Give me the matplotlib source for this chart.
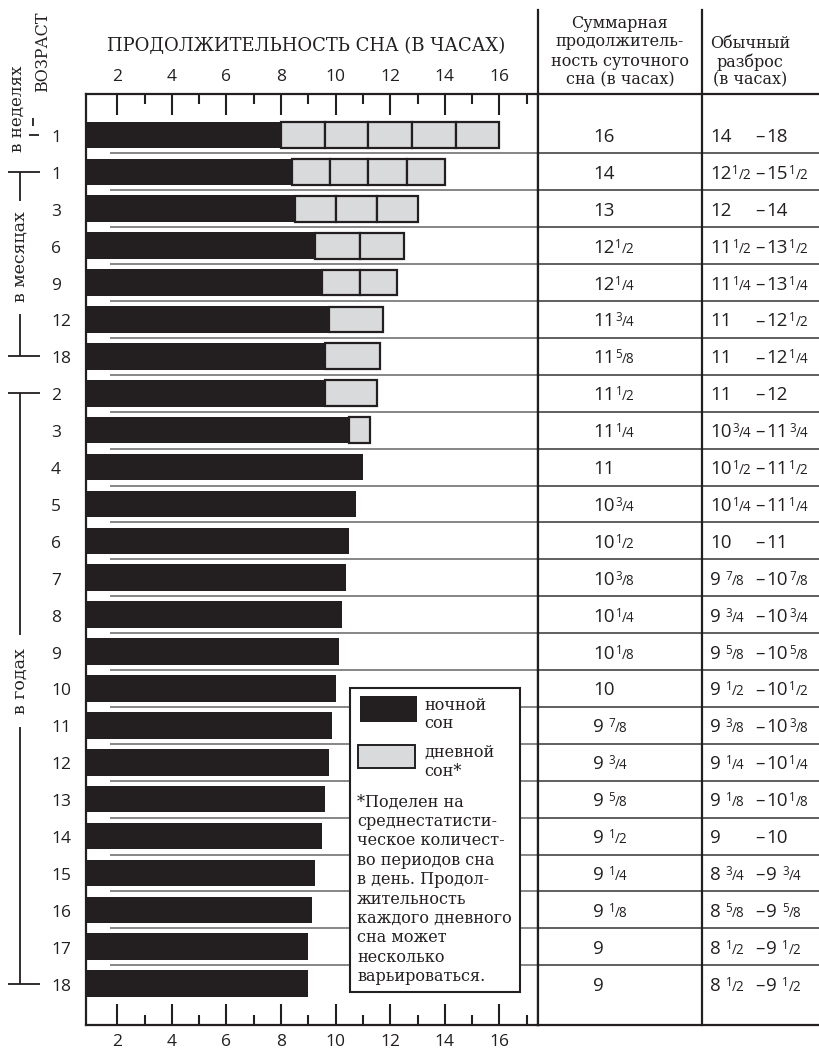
import matplotlib
matplotlib.use("Agg")
import matplotlib.pyplot as plt
import numpy as np
from matplotlib.lines import Line2D
from matplotlib.patches import Rectangle
from matplotlib.transforms import Affine2D

SERIF = "DejaVu Serif"
SANS = "Open Sans"
INK = "#231f20"
GRAY = "#d9dadb"
plt.rcParams["font.family"] = [SANS, "DejaVu Sans"]

# ---------------------------------------------------------------------------
# data
# ---------------------------------------------------------------------------
age_labels = ["1", "1", "3", "6", "9", "12", "18",
              "2", "3", "4", "5", "6", "7", "8", "9", "10",
              "11", "12", "13", "14", "15", "16", "17", "18"]
total_hours = [16, 14, 13, 12.5, 12.25, 11.75, 11.625,
               11.5, 11.25, 11, 10.75, 10.5, 10.375, 10.25, 10.125, 10,
               9.875, 9.75, 9.625, 9.5, 9.25, 9.125, 9, 9]
night_hours = [8, 8.4, 8.5, 9.25, 9.5, 9.75, 9.625,
               9.625, 10.5, 11, 10.75, 10.5, 10.375, 10.25, 10.125, 10,
               9.875, 9.75, 9.625, 9.5, 9.25, 9.125, 9, 9]
nap_count = [5, 4, 3, 2, 2, 1, 1, 1, 1] + [0] * 15

total_text = ["16", "14", "13", "12 1/2", "12 1/4", "11 3/4", "11 5/8",
              "11 1/2", "11 1/4", "11", "10 3/4", "10 1/2", "10 3/8", "10 1/4",
              "10 1/8", "10", "9 7/8", "9 3/4", "9 5/8", "9 1/2", "9 1/4",
              "9 1/8", "9", "9"]
range_low = ["14", "12 1/2", "12", "11 1/2", "11 1/4", "11", "11",
             "11", "10 3/4", "10 1/2", "10 1/4", "10", "9 7/8", "9 3/4",
             "9 5/8", "9 1/2", "9 3/8", "9 1/4", "9 1/8", "9", "8 3/4",
             "8 5/8", "8 1/2", "8 1/2"]
range_high = ["18", "15 1/2", "14", "13 1/2", "13 1/4", "12 1/2", "12 1/4",
              "12", "11 3/4", "11 1/2", "11 1/4", "11", "10 7/8", "10 3/4",
              "10 5/8", "10 1/2", "10 3/8", "10 1/4", "10 1/8", "10", "9 3/4",
              "9 5/8", "9 1/2", "9 1/2"]

footnote = ["*Поделен на", "среднестатисти-", "ческое количест-",
            "во периодов сна", "в день. Продол-", "жительность",
            "каждого дневного", "сна может", "несколько", "варьироваться."]

# ---------------------------------------------------------------------------
# layout (pixels of the 820x1049 picture)
# ---------------------------------------------------------------------------
W, H = 820, 1049
XMIN, XMAX = 0.857, 17.41
ROW_TOP, ROW_BOT = -1.11, 24.12

fig = plt.figure(figsize=(W / 100, H / 100), dpi=100)
PX = Affine2D().scale(1 / W, -1 / H).translate(0, 1) + fig.transFigure


def rect(x0, y0, x1, y1):
    return [x0 / W, 1 - y1 / H, (x1 - x0) / W, (y1 - y0) / H]


ax = fig.add_axes(rect(86, 94, 538, 1025))
tax = fig.add_axes(rect(538, 94, 820, 1025), sharey=ax)
lax = fig.add_axes(rect(0, 94, 86, 1025), sharey=ax)

rows = np.arange(len(age_labels))
night = np.array(night_hours)
total = np.array(total_hours)

# night sleep bars start at the left frame
ax.barh(rows, night - XMIN, left=XMIN, height=0.72, color=INK, zorder=3)
for r in rows:
    n = nap_count[r]
    if n == 0:
        continue
    seg = (total[r] - night[r]) / n
    ax.barh([r] * n, [seg] * n, left=night[r] + seg * np.arange(n),
            height=0.70, color=GRAY, edgecolor=INK, linewidth=1.6, zorder=3)

ax.hlines(rows[:-1] + 0.5, 1.74, XMAX, color="#666666", lw=1.1, zorder=1)
ax.set_xlim(XMIN, XMAX)
ax.set_ylim(ROW_BOT, ROW_TOP)
ax.set_yticks([])
ax.set_xticks(range(2, 17, 2))
ax.set_xticks(range(3, 18, 2), minor=True)
ax.tick_params(axis="x", which="both", top=True, bottom=True, labeltop=True,
               labelbottom=True, direction="in", width=1.5, color=INK)
ax.tick_params(axis="x", which="major", length=15, pad=6.5, labelsize=12.5,
               labelcolor=INK)
ax.tick_params(axis="x", which="minor", length=7.5)
for s in ax.spines.values():
    s.set_linewidth(1.6)
    s.set_color(INK)

# table on the right
tax.set_xlim(538, 820)
tax.tick_params(left=False, labelleft=False, bottom=False, labelbottom=False)
tax.spines["left"].set_visible(False)
tax.spines["right"].set_visible(False)
for s in ("top", "bottom"):
    tax.spines[s].set_linewidth(1.6)
    tax.spines[s].set_color(INK)
tax.hlines(rows[:-1] + 0.5, 538, 820, color="#444444", lw=1.2)

lax.set_xlim(0, 86)
lax.axis("off")

SIZE = 13.5


def chain(axis, prev, text, yb, size, dx=0.0, dy=0.0):
    return axis.annotate(text, xy=(1, yb), xycoords=(prev, "data"),
                         xytext=(dx, dy), textcoords="offset points",
                         fontsize=size, va="baseline", ha="left", color=INK,
                         annotation_clip=False)


def put_value(axis, start, yb, value, size=SIZE):
    parts = value.split()
    whole = parts[0]
    if isinstance(start, (int, float)):
        t = axis.text(start, yb, whole, fontsize=size, va="baseline",
                      ha="left", color=INK)
    else:
        t = chain(axis, start, whole, yb, size, dx=1.5)
    if len(parts) == 1:
        return t
    num, den = parts[1].split("/")
    gap = 3.5 if len(whole) == 1 else 0.8
    n = chain(axis, t, num, yb, size * 0.62, dx=gap, dy=size * 0.27)
    return chain(axis, n, "/" + den, yb, size * 0.72)


for r in rows:
    yb = r + 0.19
    put_value(tax, 593, yb, total_text[r])
    put_value(tax, 710, yb, range_low[r])
    dash = tax.text(755, yb, "–", fontsize=SIZE, va="baseline", ha="left",
                    color=INK)
    put_value(tax, dash, yb, range_high[r])
    lax.text(51, yb, age_labels[r], fontsize=12.5, va="baseline", ha="left",
             color=INK)

# age group brackets
lw_b = 1.3
lax.hlines([0], 29, 39, color=INK, lw=lw_b)
lax.vlines([33], -0.45, -0.25, color=INK, lw=lw_b)
lax.text(17, -0.72, "в неделях", rotation=90, ha="center", va="center",
         family=SERIF, fontsize=12, color=INK)
lax.text(43, -1.165, "ВОЗРАСТ", rotation=90, ha="center", va="bottom",
         family=SERIF, fontsize=11.5, color=INK, clip_on=False)

lax.hlines([1, 6, 7, 23], 8, 40, color=INK, lw=lw_b)
lax.vlines([20, 20], [1, 4.85], [1.8, 6], color=INK, lw=lw_b)
lax.text(20, 3.3, "в месяцах", rotation=90, ha="center", va="center",
         family=SERIF, fontsize=12.5, color=INK)
lax.vlines([20, 20], [7, 16.05], [13.55, 23], color=INK, lw=lw_b)
lax.text(20, 14.8, "в годах", rotation=90, ha="center", va="center",
         family=SERIF, fontsize=12.5, color=INK)

# header texts
fig.text(306, 46, "ПРОДОЛЖИТЕЛЬНОСТЬ СНА (В ЧАСАХ)", transform=PX,
         ha="center", va="center", family=SERIF, fontsize=13, color=INK)
for y, s in zip([23, 42, 62, 80], ["Суммарная", "продолжитель-",
                                   "ность суточного", "сна (в часах)"]):
    fig.text(620, y, s, transform=PX, ha="center", va="center",
             family=SERIF, fontsize=11.5, color=INK)
for y, s in zip([43, 62, 80], ["Обычный", "разброс", "(в часах)"]):
    fig.text(750, y, s, transform=PX, ha="center", va="center",
             family=SERIF, fontsize=11.5, color=INK)

fig.add_artist(Line2D([538, 538], [10, 1025], transform=PX, color=INK,
                      lw=1.6))
fig.add_artist(Line2D([702, 702], [10, 1025], transform=PX, color=INK,
                      lw=1.6))

# legend box
fig.add_artist(Rectangle((350, 688), 170, 304, transform=PX, facecolor="white",
                         edgecolor=INK, lw=1.5, zorder=5))
fig.add_artist(Rectangle((360, 696), 57, 26, transform=PX, facecolor=INK,
                         edgecolor="none", zorder=6))
fig.add_artist(Rectangle((358, 745), 57, 23, transform=PX, facecolor=GRAY,
                         edgecolor=INK, lw=1.4, zorder=6))
for y, s in zip([705, 724, 752, 772], ["ночной", "сон", "дневной", "сон*"]):
    fig.text(424, y, s, transform=PX, ha="left", va="center", family=SERIF,
             fontsize=11.5, color=INK, zorder=7)
for i, s in enumerate(footnote):
    fig.text(357, 802 + 19.4 * i, s, transform=PX, ha="left", va="center",
             family=SERIF, fontsize=11.5, color=INK, zorder=7)

fig.savefig("out.png", dpi=100)
